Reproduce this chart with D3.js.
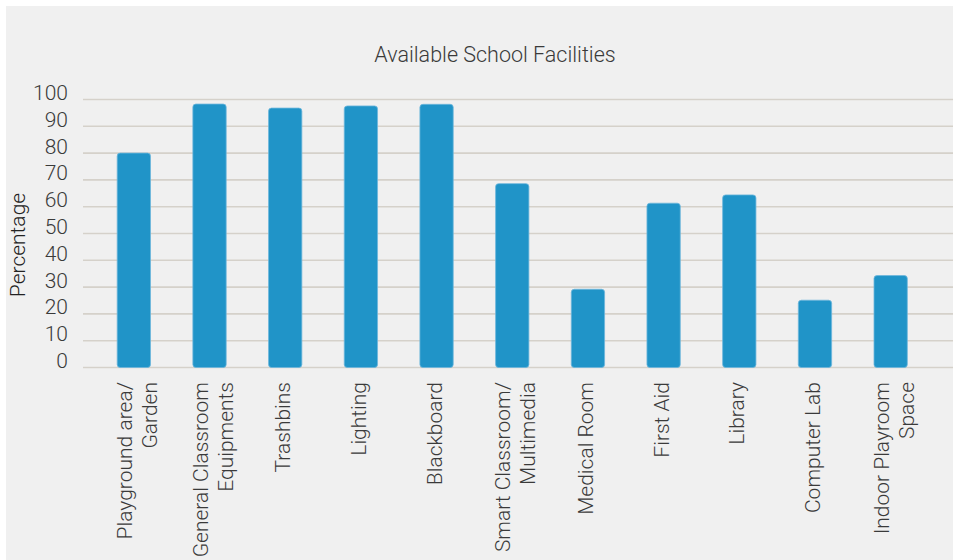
<!DOCTYPE html>
<html>
<head>
<meta charset="utf-8">
<script src="https://cdn.jsdelivr.net/npm/d3@7"></script>
<style>
  html, body { margin: 0; padding: 0; background: #fff; }
  svg { display: block; font-family: Roboto, "Noto Sans", sans-serif; }
</style>
</head>
<body>
<div id="chart"></div>
<script>
"use strict";

// facilities shown on the x axis (multi-line labels split on |)
var categories = [
  "Playground area/|Garden",
  "General Classroom|Equipments",
  "Trashbins",
  "Lighting",
  "Blackboard",
  "Smart Classroom/|Multimedia",
  "Medical Room",
  "First Aid",
  "Library",
  "Computer Lab",
  "Indoor Playroom|Space"
];

// percentage of schools with each facility
var values = [80, 98.3, 96.8, 97.6, 98.2, 68.6, 29.2, 61.3, 64.4, 25.1, 34.3];

var yTicks = [0, 10, 20, 30, 40, 50, 60, 70, 80, 90, 100];

var title = "Available School Facilities";
var yTitle = "Percentage";

var width = 953;
var height = 560;

var svg = d3.select("#chart").append("svg")
  .attr("width", width)
  .attr("height", height);

svg.append("rect")
  .attr("x", 6).attr("y", 6)
  .attr("width", width - 6).attr("height", height - 6)
  .attr("fill", "#f0f0f0");

var x = d3.scaleBand()
  .domain(categories)
  .range([96, 928.5])
  .paddingInner(0.56)
  .paddingOuter(0.28);

var y = d3.scaleLinear().domain([0, 100]).range([367.5, 99.5]);

// gridlines
svg.append("g").selectAll("line")
  .data(yTicks)
  .join("line")
  .attr("x1", 83).attr("x2", width)
  .attr("y1", function (d) { return y(d); })
  .attr("y2", function (d) { return y(d); })
  .attr("stroke", "#d5d1ca")
  .attr("stroke-width", 1.6);

// y axis labels
var yAxis = svg.append("g")
  .attr("transform", "translate(83,0)")
  .call(d3.axisLeft(y).tickValues(yTicks).tickSize(0).tickPadding(15));
yAxis.select(".domain").remove();
yAxis.selectAll("text")
  .attr("dy", "0em")
  .attr("fill", "#3a3a3a")
  .style("font-size", "21px")
  .style("font-weight", 300)
  .style("font-family", "Roboto, sans-serif");

// bars
svg.append("g").selectAll("rect")
  .data(values)
  .join("rect")
  .attr("x", function (d, i) { return x(categories[i]); })
  .attr("y", function (d) { return y(d); })
  .attr("width", x.bandwidth())
  .attr("height", function (d) { return y(0) - y(d); })
  .attr("rx", 3)
  .attr("fill", "#2094c8")
  .attr("stroke", "#6db6dc")
  .attr("stroke-width", 0.8);

// x labels, rotated
var xl = svg.append("g").selectAll("text")
  .data(categories)
  .join("text")
  .attr("transform", function (d) {
    return "translate(" + (x(d) + x.bandwidth() / 2) + ",382) rotate(-90)";
  })
  .attr("text-anchor", "end")
  .attr("fill", "#3a3a3a")
  .style("font-size", "21px")
  .style("font-weight", 300);

xl.each(function (d) {
  var lines = d.split("|");
  var el = d3.select(this);
  if (lines.length === 1) {
    el.append("tspan").attr("x", 0).attr("y", 5).text(lines[0]);
  } else {
    el.append("tspan").attr("x", 0).attr("y", -2).text(lines[0]);
    el.append("tspan").attr("x", 0).attr("y", 23).text(lines[1]);
  }
});

// title
svg.append("text")
  .attr("x", 495).attr("y", 62)
  .attr("text-anchor", "middle")
  .attr("fill", "#3a3a3a")
  .style("font-size", "21.5px")
  .style("font-weight", 300)
  .text(title);

// y title
svg.append("text")
  .attr("transform", "translate(25,245) rotate(-90)")
  .attr("text-anchor", "middle")
  .attr("fill", "#222")
  .style("font-size", "21px")
  .style("font-weight", 300)
  .text(yTitle);
</script>
</body>
</html>
